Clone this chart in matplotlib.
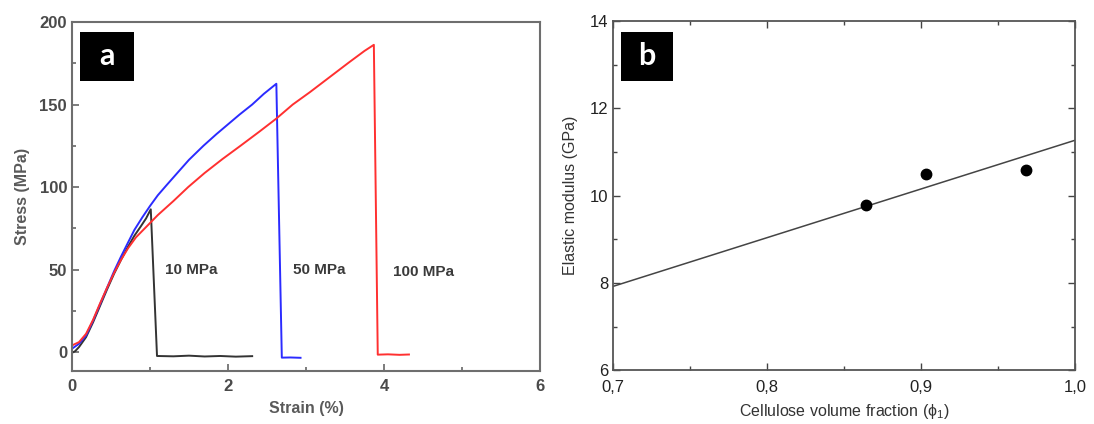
import matplotlib
matplotlib.use("Agg")
import matplotlib.pyplot as plt
from matplotlib.patches import Rectangle
from matplotlib.ticker import MultipleLocator, FuncFormatter

plt.rcParams['font.family'] = ['Liberation Sans', 'DejaVu Sans']
plt.rcParams['mathtext.fontset'] = 'custom'
plt.rcParams['mathtext.rm'] = 'Liberation Sans'
plt.rcParams['mathtext.it'] = 'Liberation Sans:italic'

# --- (a) tensile stress-strain curves -------------------------------------
strain_10 = [0.0, 0.04, 0.09, 0.18, 0.27, 0.36, 0.45, 0.54, 0.63, 0.72, 0.80,
             0.88, 0.95, 1.01, 1.09, 1.30, 1.50, 1.70, 1.90, 2.10, 2.31]
stress_10 = [-0.5, 0.5, 3, 9, 18, 28, 38, 47.5, 56, 64, 70.5,
             76, 81, 86.5, -2.4, -2.6, -2.2, -2.7, -2.4, -2.8, -2.5]

strain_50 = [0.0, 0.09, 0.18, 0.27, 0.36, 0.45, 0.54, 0.63, 0.72, 0.80, 0.90,
             1.00, 1.10, 1.21, 1.35, 1.50, 1.685, 1.85, 2.00, 2.15, 2.31, 2.46,
             2.62, 2.69, 2.80, 2.93]
stress_50 = [2, 5, 10, 19, 29, 39, 49, 58, 66.5, 74, 81.5,
             88.5, 95, 101, 108.5, 116.5, 125, 132, 138, 144, 150, 156.5,
             162.6, -3.4, -3.3, -3.5]

strain_100 = [0.0, 0.09, 0.18, 0.27, 0.36, 0.45, 0.54, 0.63, 0.72, 0.82, 0.955,
              1.10, 1.30, 1.49, 1.70, 1.93, 2.16, 2.40, 2.62, 2.83, 3.05, 3.30,
              3.55, 3.75, 3.87, 3.92, 4.05, 4.20, 4.32]
stress_100 = [4, 6, 11, 19.5, 29.5, 39, 48, 56, 63, 69.5, 76,
              83, 91.5, 100, 108.5, 117, 125, 133.5, 141.5, 150, 157.5, 166.5,
              175.5, 182.5, 186.2, -1.6, -1.4, -1.7, -1.5]

curve_labels = ["10 MPa", "50 MPa", "100 MPa"]
label_strain = [1.19, 2.83, 4.12]
label_stress = [50, 49.5, 48.5]

# --- (b) elastic modulus vs cellulose fraction -----------------------------
phi = [0.864, 0.903, 0.968]
modulus = [9.79, 10.49, 10.59]
fit_phi = [0.70, 1.00]
fit_modulus = [7.92, 11.27]

fig = plt.figure(figsize=(10.94, 4.24), dpi=100)
ax1 = fig.add_axes([0.0658, 0.125, 0.4278, 0.823])
ax2 = fig.add_axes([0.5603, 0.127, 0.4223, 0.823])

# panel a
lw = 1.4
ax1.plot(strain_10, stress_10, color='#333333', lw=lw)
ax1.plot(strain_50, stress_50, color='#2b2bff', lw=lw)
ax1.plot(strain_100, stress_100, color='#ff3030', lw=lw)
for t, x, y in zip(curve_labels, label_strain, label_stress):
    ax1.text(x, y, t, fontsize=11, fontweight='bold', color='#3a3a3a',
             ha='left', va='center')

ax1.set_xlim(0, 6)
ax1.set_ylim(-11.5, 200)
ax1.xaxis.set_major_locator(MultipleLocator(2))
ax1.xaxis.set_minor_locator(MultipleLocator(1))
ax1.yaxis.set_major_locator(MultipleLocator(50))
ax1.yaxis.set_minor_locator(MultipleLocator(25))
ax1.tick_params(which='both', direction='in', top=False, right=False,
                color='#666666', width=1.2)
ax1.tick_params(which='major', length=5, labelsize=12, labelcolor='#4a4a4a')
ax1.tick_params(axis='x', which='major', pad=6)
ax1.tick_params(which='minor', length=3)
for lab in ax1.get_xticklabels() + ax1.get_yticklabels():
    lab.set_fontweight('bold')
for s in ax1.spines.values():
    s.set_color('#6e6e6e')
    s.set_linewidth(1.5)
ax1.set_xlabel('Strain (%)', fontsize=11.5, fontweight='bold', color='#5a5a5a',
               labelpad=5)
ax1.set_ylabel('Stress (MPa)', fontsize=11.5, fontweight='bold', color='#5a5a5a',
               labelpad=7)

# panel b
ax2.plot(fit_phi, fit_modulus, color='#444444', lw=1.1)
ax2.plot(phi, modulus, 'o', color='black', ms=7.5)
ax2.set_xlim(0.7, 1.0)
ax2.set_ylim(6, 14)
ax2.xaxis.set_major_locator(MultipleLocator(0.1))
ax2.xaxis.set_minor_locator(MultipleLocator(0.05))
ax2.yaxis.set_major_locator(MultipleLocator(2))
ax2.yaxis.set_minor_locator(MultipleLocator(1))
ax2.xaxis.set_major_formatter(FuncFormatter(lambda v, p: f"{v:.1f}".replace('.', ',')))
ax2.yaxis.set_major_formatter(FuncFormatter(lambda v, p: f"{v:.0f}"))
ax2.tick_params(which='both', direction='in', top=True, right=True,
                color='#444444', width=1.0)
ax2.tick_params(which='major', length=5, labelsize=12, labelcolor='#222222')
ax2.tick_params(axis='x', which='major', pad=7)
ax2.tick_params(which='minor', length=3)
for s in ax2.spines.values():
    s.set_color('#555555')
    s.set_linewidth(1.3)
ax2.set_xlabel('Cellulose volume fraction (ϕ$_{\\rm 1}$)', fontsize=11.5,
               color='#333333', labelpad=5)
ax2.set_ylabel('Elastic modulus (GPa)', fontsize=11.5, color='#333333', labelpad=8)

# panel letters
for ax, letter, (x0, y0) in [(ax1, 'a', (0.018, 0.832)), (ax2, 'b', (0.017, 0.829))]:
    ax.add_patch(Rectangle((x0, y0), 0.114, 0.139, transform=ax.transAxes,
                           facecolor='black', edgecolor='none', zorder=5))
    ax.text(x0 + 0.057, y0 + 0.072, letter, transform=ax.transAxes,
            color='white', fontsize=22, fontweight='bold', family='Lato',
            ha='center', va='center', zorder=6)

fig.savefig('out.png', dpi=100)
